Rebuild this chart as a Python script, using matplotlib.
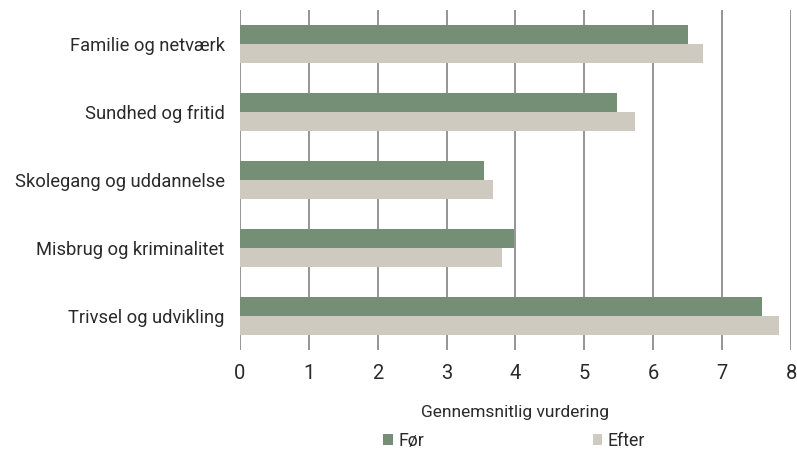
import matplotlib
matplotlib.use('Agg')
import matplotlib.pyplot as plt
import numpy as np

categories = ["Familie og netværk", "Sundhed og fritid", "Skolegang og uddannelse",
              "Misbrug og kriminalitet", "Trivsel og udvikling"]
foer = [6.50, 5.47, 3.55, 3.98, 7.58]
efter = [6.72, 5.73, 3.68, 3.81, 7.83]
series_names = ["Før", "Efter"]

green = "#748f75"
beige = "#cfcac0"
grid_col = "#8c8c8c"
txt = "#2a2a2a"

plt.rcParams['font.family'] = ['Roboto', 'DejaVu Sans']

fig = plt.figure(figsize=(7.97, 4.5), dpi=100)
ax = fig.add_axes([0.301, 0.222, 0.6915, 0.756])

y = np.arange(len(categories))
h = 0.28
ax.barh(y - h / 2, foer, height=h, color=green, label=series_names[0], zorder=3)
ax.barh(y + h / 2, efter, height=h, color=beige, label=series_names[1], zorder=3)

ax.set_xlim(0, 8)
ax.set_ylim(len(categories) - 0.5, -0.5)
ax.set_yticks(y)
ax.set_yticklabels(categories, fontsize=13.2, color=txt)
ax.set_xticks(range(0, 9))
ax.tick_params(axis='x', labelsize=14.5, length=0, pad=10, colors=txt)
ax.tick_params(axis='y', length=0, pad=11)

ax.grid(True, axis='x', color=grid_col, linewidth=1.3, zorder=0)
for s in ax.spines.values():
    s.set_visible(False)

ax.set_xlabel("Gennemsnitlig vurdering", fontsize=12.5, color=txt, labelpad=16)

fig.legend(loc="lower center", bbox_to_anchor=(0.645, -0.035), ncol=2, frameon=False,
           fontsize=12.8, handlelength=0.55, handleheight=0.55, handletextpad=0.3,
           columnspacing=9.5, labelcolor=txt)

plt.savefig("out.png", dpi=100)
